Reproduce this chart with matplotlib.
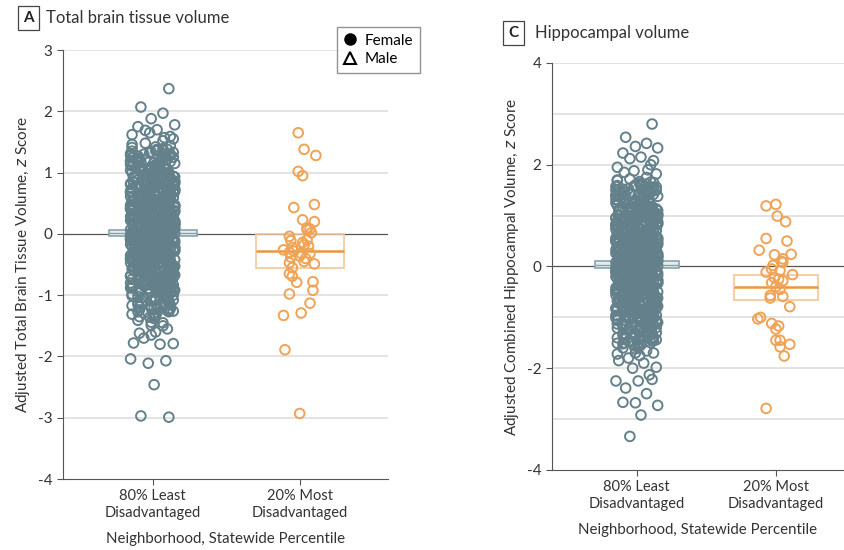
import numpy as np
import matplotlib
matplotlib.use("Agg")
import matplotlib.pyplot as plt
from matplotlib.lines import Line2D

plt.rcParams['font.family'] = ['Lato', 'DejaVu Sans']

# ---- data ----
groups = ['80% Least\nDisadvantaged', '20% Most\nDisadvantaged']

# panel A: total brain tissue volume, 80% least disadvantaged (grey)
brain_least = [
    0.12, -0.45, 0.78, -0.03, 1.21, -0.88, 0.34, -0.19, 0.56, -1.12, 0.07, 0.93, -0.61, 0.25, -0.32, 1.44, -0.74, 0.41, -0.09, 0.66,
    -1.35, 0.18, -0.52, 0.85, 0.01, -0.27, 1.05, -0.95, 0.47, -0.14, 0.29, -0.68, 1.31, -0.38, 0.72, -1.02, 0.09, 0.53, -0.81, -0.06,
    0.97, -0.23, 0.38, -1.24, 0.61, -0.49, 0.15, 1.17, -0.71, 0.02, -0.36, 0.82, -0.11, 0.44, -0.92, 1.52, -0.57, 0.21, -1.41, 0.69,
    -0.17, 0.31, -0.84, 1.09, -0.42, 0.04, 0.58, -1.08, 0.26, -0.29, 0.89, -0.65, 0.13, -0.01, 1.28, -0.77, 0.48, -0.21, 0.75, -1.18,
    0.36, -0.55, 1.36, -0.12, 0.63, -0.98, 0.19, -0.33, 0.99, -0.08, 0.51, -1.29, 0.27, -0.63, 0.84, 0.05, -0.44, 1.13, -0.86, 0.11,
    -0.25, 0.71, -1.49, 0.43, -0.15, 0.91, -0.58, 0.22, 1.24, -0.39, 0.06, -0.79, 0.59, -1.06, 0.33, -0.04, 1.01, -0.52, 0.17, -0.93,
    0.81, -0.31, 0.14, -0.69, 1.39, -0.18, 0.46, -1.15, 0.28, 0.73, -0.47, 0.03, -0.89, 1.07, -0.26, 0.55, -1.33, 0.38, -0.07, 0.95,
    -0.62, 0.24, -0.02, 1.19, -0.73, 0.42, -0.35, 0.87, -1.21, 0.16, 0.64, -0.13, 1.48, -0.54, 0.31, -0.96, 0.08, -0.41, 0.77, -1.05,
    0.49, -0.16, 1.03, -0.83, 0.20, -0.30, 0.68, -1.38, 0.37, -0.05, 1.26, -0.66, 0.10, 0.57, -0.94, 0.23, -0.43, 1.11, -0.22, 0.80,
    -1.09, 0.35, -0.59, 0.00, 0.92, -0.37, 1.33, -0.76, 0.18, -0.10, 0.62, -1.27, 0.45, -0.20, 0.86, -0.53, 1.16, -0.87, 0.30, -0.34,
    0.74, -1.17, 0.06, 0.54, -0.72, 1.42, -0.24, 0.39, -0.97, 0.12, -0.46, 0.83, -0.08, 1.04, -0.64, 0.27, -1.45, 0.60, -0.28, 0.15,
    -0.40, 1.22, -0.85, 0.33, -0.11, 0.70, -1.01, 0.19, 0.96, -0.56, 0.04, -0.32, 1.55, -0.78, 0.50, -0.17, 0.88, -1.23, 0.25, -0.05,
    0.58, -0.67, 0.13, 1.12, -0.39, 0.76, -1.31, 0.29, -0.13, 0.65, -0.91, 0.40, 1.30, -0.26, 0.02, -0.60, 0.94, -1.13, 0.22, -0.48,
    1.00, -0.19, 0.52, -1.04, 0.17, -0.74, 1.38, -0.33, 0.61, -0.02, 0.79, -1.36, 0.35, -0.50, 1.08, -0.12, 0.44, -0.82, 0.11, 0.67,
    -0.95, 0.28, -0.44, 1.27, -0.70, 0.08, 0.90, -0.27, 0.47, -1.19, 0.16, -0.58, 1.46, -0.15, 0.73, -0.99, 0.32, -0.36, 0.85, -0.03,
    0.21, -1.26, 0.63, -0.10, 1.18, -0.80, 0.37, -0.23, 0.55, -1.44, 0.09, 0.98, -0.51, 0.26, -0.88, 1.35, -0.29, 0.42, -0.65, 0.14,
    0.05, -0.33, 0.62, -0.71, 0.18, 0.94, -0.12, 0.41, -1.06, 0.27, -0.48, 0.83, -0.02, 1.15, -0.57, 0.36, -0.24, 0.71, -0.88, 0.09,
    -0.15, 0.52, -0.66, 0.21, 1.02, -0.39, 0.13, -0.91, 0.68, -0.07, 0.44, -1.20, 0.30, -0.28, 0.87, -0.53, 0.01, 1.27, -0.74, 0.24,
    0.58, -0.09, -0.82, 0.35, -0.46, 1.10, -0.18, 0.73, -0.60, 0.16, -1.00, 0.49, 0.04, -0.35, 0.97, -0.69, 0.26, -0.13, 1.34, -0.42,
    -0.26, 0.80, 0.10, -0.55, 0.39, -1.14, 0.65, -0.04, 1.20, -0.77, 0.22, -0.31, 0.92, -0.10, 0.50, -0.95, 0.07, 0.76, -0.45, 1.05,
    0.32, -0.62, 0.85, -0.20, 0.12, -0.84, 1.30, -0.37, 0.57, 0.00, -1.25, 0.43, -0.16, 0.69, -0.52, 1.12, -0.06, 0.28, -0.79, 0.61,
    -0.48, 0.17, 1.07, -0.99, 0.46, -0.23, 0.78, -0.11, 0.33, -0.67, 1.41, -0.30, 0.06, -0.86, 0.55, -0.14, 0.95, -0.58, 0.19, -1.08,
    0.70, -0.03, -0.41, 0.25, -0.73, 1.17, -0.27, 0.51, -0.92, 0.14, 0.81, -0.50, 0.38, -1.17, 0.02, 0.64, -0.21, 1.23, -0.64, 0.31,
    -0.08, 0.90, -0.56, 0.11, -0.35, 0.67, -1.30, 0.42, -0.13, 1.01, -0.76, 0.20, -0.44, 0.86, -0.01, -0.97, 0.53, -0.25, 1.32, -0.61,
    0.45, -0.70, 0.23, 1.14, -0.18, 0.60, -0.89, 0.07, -0.40, 0.79, -1.10, 0.34, 0.98, -0.29, 0.15, -0.66, 0.48, -0.05, -1.22, 0.74,
    -0.36, 0.03, 0.88, -0.60, 0.29, -1.03, 0.54, -0.17, 1.25, -0.47, 0.10, -0.80, 0.66, -0.09, 0.37, -0.53, 1.08, -0.22, 0.19, -0.90,
    0.96, -0.25, 0.40, -0.78, 0.08, 0.72, -0.43, 1.36, -0.14, 0.27, -1.15, 0.59, -0.32, 0.13, -0.68, 0.90, -0.04, 0.47, -0.96, 0.22,
    -0.11, 0.64, -1.28, 0.35, -0.52, 1.00, -0.06, 0.18, -0.83, 0.79, -0.30, 0.42, -0.01, 1.19, -0.62, 0.25, -0.19, 0.70, -1.05, 0.12,
    0.53, -0.45, 0.02, 0.86, -0.94, 0.30, -0.16, 1.29, -0.57, 0.14, 0.67, -0.36, -1.19, 0.45, -0.08, 0.93, -0.72, 0.21, -0.27, 1.06,
    -0.69, 0.11, 0.76, -0.21, 0.50, -1.09, 0.38, -0.03, 0.99, -0.49, 0.17, -0.87, 0.61, -0.12, 1.22, -0.38, 0.04, -0.75, 0.84, -0.26,
    0.28, -0.98, 0.63, -0.07, 1.16, -0.56, 0.20, -0.34, 0.74, -0.15, 0.46, -1.23, 0.09, 0.89, -0.42, 0.32, -0.63, 1.38, -0.10, 0.56,
    -0.53, 0.40, -0.02, 0.68, -0.81, 0.15, 1.04, -0.28, 0.52, -1.13, 0.24, -0.46, 0.82, -0.05, -0.70, 0.36, 1.18, -0.20, 0.01, -0.93,
    0.84, -0.14, 0.30, -0.65, 1.26, -0.40, 0.07, 0.58, -1.02, 0.41, -0.24, 0.96, -0.59, 0.16, -0.10, 0.73, -1.27, 0.27, 0.62, -0.33,
    0.00, -0.76, 0.55, 0.19, -0.44, 1.09, -0.85, 0.33, -0.12, 0.80, -0.51, 0.05, 1.31, -0.31, 0.47, -0.95, 0.12, -0.17, 0.69, -1.12,
    0.39, -0.22, 0.91, -1.01, 0.14, -0.37, 0.61, -0.08, 1.13, -0.64, 0.26, -0.04, -0.88, 0.51, 0.06, -0.47, 0.85, -0.71, 0.31, 1.21,
    -0.19, 0.47, -0.60, 0.02, 0.78, -1.16, 0.23, -0.29, 1.03, -0.13, 0.60, -0.82, 0.37, -0.39, 0.11, 0.94, -0.55, 1.28, -0.02, -1.34,
    2.37, 2.07, 1.97, 1.88, 1.78, 1.75, 1.70, 1.69, 1.59, 1.62, 1.57, 1.65,
    -1.55, -1.62, -1.60, -1.70, -1.78, -1.80, -1.79, -2.11, -2.07, -2.04, -2.46, -2.99, -2.97, -1.50, -1.65,
]

# panel A: 20% most disadvantaged (orange), value and horizontal offset
brain_most = [1.65, 1.38, 1.28, 1.02, 0.95, 0.43, 0.48, 0.23, 0.20, 0.07, 0.08, 0.02,
              -0.04, -0.11, -0.14, -0.20, -0.26, -0.22, -0.28, -0.32, -0.32, -0.47, -0.45,
              -0.49, -0.55, -0.65, -0.69, -0.79, -0.78, -0.92, -0.98, -1.13, -1.29, -1.33,
              -1.89, -2.93, -0.38, -0.36, -0.40, -0.18, -0.30, -0.10, 0.10]
brain_most_dx = [-0.01, 0.03, 0.11, -0.01, 0.02, -0.04, 0.10, 0.02, 0.10, 0.05, 0.07, 0.08,
                 -0.07, -0.06, 0.02, 0.06, -0.11, -0.05, -0.04, 0.01, 0.07, -0.07, 0.03,
                 0.10, -0.05, -0.07, -0.05, -0.02, 0.09, 0.09, -0.07, 0.07, 0.01, -0.11,
                 -0.10, 0.00, -0.06, 0.00, 0.04, 0.03, -0.07, 0.05, 0.05]

# panel C: hippocampal volume, 80% least disadvantaged (grey)
hippo_least = [
    0.15, -0.52, 0.93, -0.04, 1.42, -1.01, 0.40, -0.22, 0.66, -1.28, 0.09, 1.10, -0.70, 0.30, -0.37, 1.65, -0.86, 0.49, -0.10, 0.78,
    -1.50, 0.22, -0.60, 1.00, 0.02, -0.31, 1.23, -1.09, 0.56, -0.16, 0.34, -0.79, 1.52, -0.44, 0.85, -1.18, 0.11, 0.62, -0.93, -0.07,
    1.14, -0.27, 0.45, -1.40, 0.72, -0.57, 0.18, 1.37, -0.82, 0.03, -0.42, 0.96, -0.13, 0.52, -1.06, 1.75, -0.66, 0.25, -1.60, 0.81,
    -0.20, 0.37, -0.97, 1.28, -0.49, 0.05, 0.68, -1.24, 0.31, -0.34, 1.04, -0.75, 0.16, -0.01, 1.50, -0.89, 0.57, -0.25, 0.88, -1.35,
    0.43, -0.64, 1.58, -0.14, 0.74, -1.13, 0.23, -0.39, 1.16, -0.09, 0.60, -1.47, 0.32, -0.73, 0.99, 0.06, -0.51, 1.32, -1.00, 0.13,
    -0.29, 0.83, -1.70, 0.50, -0.18, 1.07, -0.67, 0.26, 1.45, -0.45, 0.07, -0.91, 0.69, -1.22, 0.39, -0.05, 1.19, -0.60, 0.20, -1.07,
    0.95, -0.36, 0.17, -0.80, 1.62, -0.21, 0.54, -1.32, 0.33, 0.86, -0.55, 0.04, -1.03, 1.26, -0.30, 0.65, -1.53, 0.44, -0.08, 1.12,
    -0.72, 0.28, -0.02, 1.40, -0.85, 0.49, -0.41, 1.02, -1.39, 0.19, 0.75, -0.15, 1.72, -0.63, 0.36, -1.11, 0.10, -0.48, 0.91, -1.21,
    0.58, -0.19, 1.21, -0.96, 0.24, -0.35, 0.80, -1.58, 0.43, -0.06, 1.48, -0.77, 0.12, 0.67, -1.08, 0.27, -0.50, 1.30, -0.26, 0.94,
    -1.26, 0.41, -0.69, 0.00, 1.08, -0.43, 1.56, -0.88, 0.21, -0.12, 0.73, -1.46, 0.53, -0.23, 1.01, -0.62, 1.36, -1.00, 0.35, -0.40,
    0.87, -1.35, 0.07, 0.63, -0.84, 1.67, -0.28, 0.46, -1.12, 0.14, -0.54, 0.98, -0.09, 1.22, -0.74, 0.32, -1.66, 0.71, -0.33, 0.18,
    -0.47, 1.43, -0.99, 0.39, -0.13, 0.82, -1.17, 0.22, 1.13, -0.65, 0.05, -0.38, 1.82, -0.90, 0.59, -0.20, 1.03, -1.42, 0.29, -0.06,
    0.68, -0.78, 0.15, 1.31, -0.46, 0.89, -1.51, 0.34, -0.15, 0.76, -1.05, 0.47, 1.53, -0.30, 0.03, -0.70, 1.10, -1.30, 0.26, -0.56,
    1.18, -0.22, 0.61, -1.20, 0.20, -0.86, 1.61, -0.39, 0.72, -0.03, 0.93, -1.55, 0.41, -0.58, 1.27, -0.14, 0.52, -0.95, 0.13, 0.79,
    -1.10, 0.33, -0.51, 1.49, -0.81, 0.09, 1.06, -0.32, 0.55, -1.37, 0.19, -0.68, 1.70, -0.17, 0.86, -1.14, 0.38, -0.42, 1.00, -0.04,
    0.25, -1.44, 0.74, -0.12, 1.39, -0.92, 0.44, -0.27, 0.64, -1.62, 0.10, 1.15, -0.59, 0.31, -1.02, 1.59, -0.34, 0.50, -0.76, 0.17,
    0.07, -0.40, 0.76, -0.86, 0.22, 1.13, -0.15, 0.50, -1.27, 0.33, -0.58, 1.00, -0.02, 1.38, -0.69, 0.44, -0.29, 0.86, -1.06, 0.11,
    -0.18, 0.63, -0.80, 0.26, 1.23, -0.47, 0.16, -1.10, 0.82, -0.08, 0.53, -1.44, 0.36, -0.34, 1.05, -0.64, 0.01, 1.52, -0.89, 0.29,
    0.70, -0.11, -0.98, 0.42, -0.55, 1.33, -0.22, 0.88, -0.72, 0.19, -1.20, 0.59, 0.05, -0.42, 1.17, -0.83, 0.31, -0.16, 1.60, -0.50,
    -0.31, 0.96, 0.12, -0.66, 0.47, -1.37, 0.78, -0.05, 1.44, -0.92, 0.27, -0.37, 1.10, -0.12, 0.60, -1.14, 0.08, 0.91, -0.54, 1.26,
    0.38, -0.74, 1.02, -0.24, 0.14, -1.01, 1.56, -0.44, 0.68, 0.00, -1.50, 0.52, -0.19, 0.83, -0.62, 1.34, -0.07, 0.34, -0.95, 0.73,
    -0.58, 0.20, 1.28, -1.19, 0.55, -0.28, 0.94, -0.13, 0.40, -0.80, 1.69, -0.36, 0.07, -1.03, 0.66, -0.17, 1.14, -0.70, 0.23, -1.30,
    0.84, -0.04, -0.49, 0.30, -0.88, 1.40, -0.32, 0.61, -1.10, 0.17, 0.97, -0.60, 0.46, -1.40, 0.02, 0.77, -0.25, 1.48, -0.77, 0.37,
    -0.10, 1.08, -0.67, 0.13, -0.42, 0.80, -1.56, 0.50, -0.16, 1.21, -0.91, 0.24, -0.53, 1.03, -0.01, -1.16, 0.64, -0.30, 1.58, -0.73,
    0.54, -0.84, 0.28, 1.37, -0.22, 0.72, -1.07, 0.08, -0.48, 0.95, -1.32, 0.41, 1.18, -0.35, 0.18, -0.79, 0.58, -0.06, -1.46, 0.89,
    -0.43, 0.04, 1.06, -0.72, 0.35, -1.24, 0.65, -0.20, 1.50, -0.56, 0.12, -0.96, 0.79, -0.11, 0.44, -0.64, 1.30, -0.26, 0.23, -1.08,
    1.15, -0.30, 0.48, -0.94, 0.10, 0.86, -0.52, 1.63, -0.17, 0.32, -1.38, 0.71, -0.38, 0.16, -0.82, 1.08, -0.05, 0.56, -1.15, 0.26,
    -0.13, 0.77, -1.54, 0.42, -0.62, 1.20, -0.07, 0.22, -1.00, 0.95, -0.36, 0.50, -0.01, 1.43, -0.74, 0.30, -0.23, 0.84, -1.26, 0.14,
    0.64, -0.54, 0.02, 1.03, -1.13, 0.36, -0.19, 1.55, -0.68, 0.17, 0.80, -0.43, -1.43, 0.54, -0.10, 1.12, -0.86, 0.25, -0.32, 1.27,
    -0.83, 0.13, 0.91, -0.25, 0.60, -1.31, 0.46, -0.04, 1.19, -0.59, 0.20, -1.04, 0.73, -0.14, 1.46, -0.46, 0.05, -0.90, 1.01, -0.31,
    0.34, -1.18, 0.76, -0.08, 1.39, -0.67, 0.24, -0.41, 0.89, -0.18, 0.55, -1.48, 0.11, 1.07, -0.50, 0.38, -0.76, 1.66, -0.12, 0.67,
    -0.64, 0.48, -0.02, 0.82, -0.97, 0.18, 1.25, -0.34, 0.62, -1.36, 0.29, -0.55, 0.98, -0.06, -0.84, 0.43, 1.42, -0.24, 0.01, -1.12,
    1.01, -0.17, 0.36, -0.78, 1.51, -0.48, 0.08, 0.70, -1.22, 0.49, -0.29, 1.15, -0.71, 0.19, -0.12, 0.88, -1.52, 0.32, 0.74, -0.40,
    0.00, -0.91, 0.66, 0.23, -0.53, 1.31, -1.02, 0.40, -0.14, 0.96, -0.61, 0.06, 1.57, -0.37, 0.56, -1.14, 0.14, -0.20, 0.83, -1.34,
    0.47, -0.26, 1.09, -1.21, 0.17, -0.44, 0.73, -0.10, 1.36, -0.77, 0.31, -0.05, -1.06, 0.61, 0.07, -0.56, 1.02, -0.85, 0.37, 1.45,
    -0.23, 0.56, -0.72, 0.02, 0.94, -1.39, 0.28, -0.35, 1.24, -0.16, 0.72, -0.98, 0.44, -0.47, 0.13, 1.13, -0.66, 1.54, -0.02, -1.60,
    2.80, 2.54, 2.42, 2.36, 2.33, 2.23, 2.15, 2.12, 2.08, 1.95, 1.90, 1.88, 2.00, 1.85,
    -1.75, -1.80, -1.85, -1.90, -1.98, -2.00, -2.13, -2.25, -2.25, -2.22, -2.39, -2.50, -2.68, -2.73,
    -2.67, -2.92, -3.34, -1.70, -1.72,
]

hippo_most = [1.19, 1.22, 0.99, 0.88, 0.55, 0.50, 0.32, 0.23, 0.24, 0.15, 0.08, 0.02,
              -0.11, -0.08, -0.16, -0.22, -0.28, -0.32, -0.25, -0.57, -0.62, -0.59, -0.79,
              -1.03, -1.00, -1.12, -1.17, -1.23, -1.45, -1.45, -1.53, -1.58, -1.76, -2.79,
              -0.40, -0.45, -0.05, 0.10]
hippo_most_dx = [-0.07, 0.00, 0.01, 0.07, -0.07, 0.08, -0.12, -0.01, 0.11, 0.05, 0.05, -0.02,
                 -0.07, 0.03, 0.12, -0.01, 0.05, -0.03, 0.02, -0.04, -0.04, 0.05, 0.10,
                 -0.13, -0.11, -0.03, 0.02, 0.00, 0.00, 0.03, 0.10, 0.03, 0.06, -0.07,
                 0.00, 0.03, -0.03, 0.04]

# box summaries (q1, median, q3) per group
brain_box = [(-0.03, 0.01, 0.06), (-0.55, -0.28, 0.00)]
hippo_box = [(-0.03, 0.03, 0.10), (-0.65, -0.40, -0.16)]

# ---- styling ----
GREY = '#64818b'
GREY_BOX = '#8aa3ab'
ORANGE = '#f0a255'
ORANGE_BOX = '#f6c594'
ORANGE_MED = '#ec9540'
JITTER = [-0.13, 0.05, 0.14, -0.03, 0.09, -0.15, 0.01, 0.11, -0.08, 0.07, -0.01, 0.15,
          -0.10, 0.03, -0.05, 0.12, -0.14, 0.08, -0.02, 0.10, -0.09, 0.02, -0.06]


def draw_panel(ax, least, most, most_dx, boxes, ylim, ylabel):
    ax.set_xlim(-0.61, ylim[2])
    ax.set_ylim(ylim[0], ylim[1])
    for v in range(int(ylim[0]) + 1, int(ylim[1]) + 1):
        if v != 0:
            ax.axhline(v, color='#dedede', lw=1.2, zorder=0)
    ax.axhline(0, color='#555555', lw=0.9, zorder=1)

    # boxes
    for i, (q1, med, q3) in enumerate(boxes):
        if i == 0:
            ax.bar(i, q3 - q1, bottom=q1, width=0.6, facecolor='#e4ecee',
                   edgecolor=GREY_BOX, lw=1.2, zorder=2)
            ax.hlines(med, i - 0.3, i + 0.3, color=GREY_BOX, lw=1.0, zorder=2)
        else:
            ax.bar(i, q3 - q1, bottom=q1, width=0.6, facecolor='none',
                   edgecolor=ORANGE_BOX, lw=1.2, zorder=2)
            ax.hlines(med, i - 0.3, i + 0.3, color=ORANGE_MED, lw=1.8, zorder=2)

    dx = np.resize(JITTER, len(least))
    ax.scatter(0 + dx, least, s=48, facecolors='none', edgecolors=GREY,
               linewidths=1.4, zorder=3)
    ax.scatter(1 + np.array(most_dx), most, s=48, facecolors='none',
               edgecolors=ORANGE, linewidths=1.4, zorder=3)

    ticks = list(range(int(ylim[0]), int(ylim[1]) + 1, ylim[3]))
    ax.set_xticks([0, 1])
    ax.set_xticklabels(groups, fontsize=10.5, color='#333333')
    ax.set_yticks(ticks)
    ax.set_yticklabels([str(t) for t in ticks])
    ax.tick_params(axis='y', labelsize=11, labelcolor='#333333', length=4,
                   color='#555555')
    ax.tick_params(axis='x', length=4, color='#555555')
    for side in ['top', 'right']:
        ax.spines[side].set_visible(False)
    for side in ['left', 'bottom']:
        ax.spines[side].set_color('#555555')
    ax.set_ylabel(ylabel, fontsize=11, color='#333333')
    ax.set_xlabel('Neighborhood, Statewide Percentile', fontsize=10.8,
                  color='#333333', labelpad=9)


fig = plt.figure(figsize=(8.44, 5.5), dpi=100)
axA = fig.add_axes([0.0746, 0.129, 0.385, 0.780])
axC = fig.add_axes([0.654, 0.1455, 0.346, 0.740])

draw_panel(axA, brain_least, brain_most, brain_most_dx, brain_box,
           (-4, 3, 1.60, 1), 'Adjusted Total Brain Tissue Volume, $z$ Score')
draw_panel(axC, hippo_least, hippo_most, hippo_most_dx, hippo_box,
           (-4, 4, 1.49, 2), 'Adjusted Combined Hippocampal Volume, $z$ Score')

# panel titles
box_kw = dict(boxstyle='square,pad=0.35', facecolor='white', edgecolor='#444444', lw=0.9)
fig.text(0.0335, 0.967, 'A', fontsize=11, fontweight='bold', ha='center', va='center',
         color='#222222', bbox=box_kw)
fig.text(0.055, 0.967, 'Total brain tissue volume', fontsize=12, va='center', color='#333333')
fig.text(0.608, 0.940, 'C', fontsize=11, fontweight='bold', ha='center', va='center',
         color='#222222', bbox=box_kw)
fig.text(0.634, 0.940, 'Hippocampal volume', fontsize=12, va='center', color='#333333')

# legend
handles = [Line2D([], [], marker='o', color='black', ls='none', markersize=8),
           Line2D([], [], marker='^', color='black', mfc='none', ls='none',
                  markersize=8, mew=1.5)]
leg = fig.legend(handles, ['Female', 'Male'], loc='upper left',
                 bbox_to_anchor=(0.399, 0.951), borderaxespad=0, frameon=True,
                 fancybox=False, fontsize=11, handletextpad=0.55, borderpad=0.45,
                 labelspacing=0.3, handlelength=0.8)
leg.get_frame().set_edgecolor('#777777')
leg.get_frame().set_linewidth(1.0)

fig.savefig('out.png', dpi=100)
